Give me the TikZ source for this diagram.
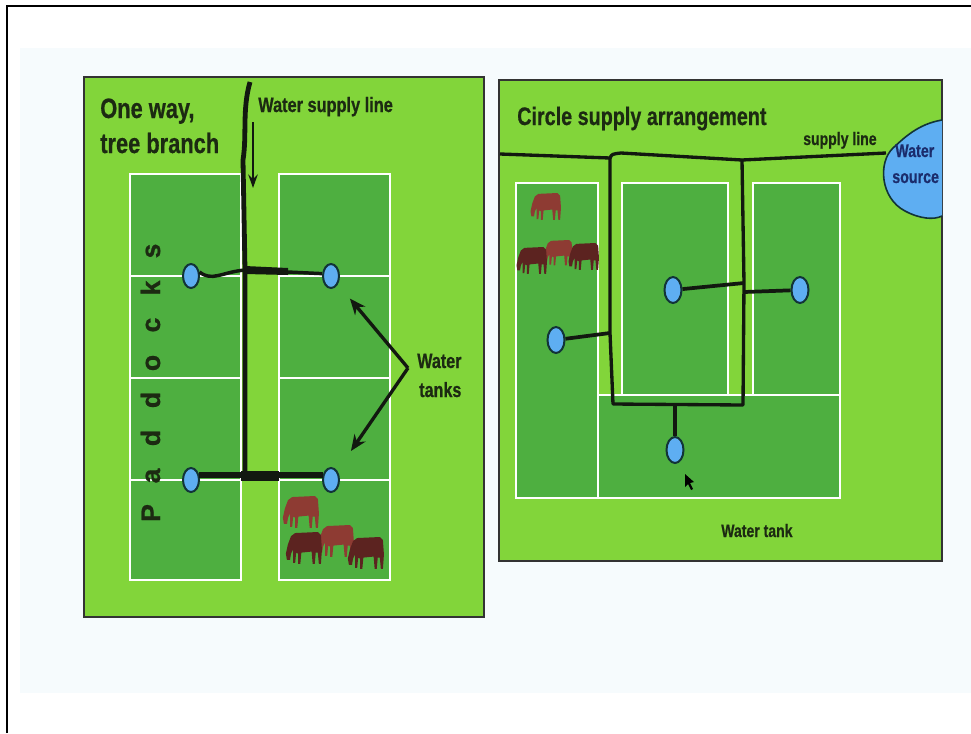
\documentclass[tikz,border=0pt]{standalone}
\usepackage{fontspec}
\newfontfamily\cond[FakeStretch=0.78,FakeBold=0.6]{Liberation Sans}
\newfontfamily\widesans[FakeBold=0.8]{Liberation Sans}
\usetikzlibrary{shapes.geometric,arrows.meta}

\definecolor{lime}{HTML}{82D53A}
\definecolor{paddock}{HTML}{4EAF40}
\definecolor{tankblue}{HTML}{5EAEF2}
\definecolor{tankedge}{HTML}{123438}
\definecolor{ink}{HTML}{1C2A12}
\definecolor{pagebg}{HTML}{F6FBFD}
\definecolor{cowlight}{HTML}{8E3B33}
\definecolor{cowdark}{HTML}{5C2320}
\definecolor{srcink}{HTML}{1B2C6C}
\definecolor{pipecol}{HTML}{121810}

\tikzset{
  panel/.style={fill=lime, draw=black!80, line width=1.5pt},
  field/.style={fill=paddock, draw=white, line width=1.3pt},
  tank/.style={ellipse, fill=tankblue, draw=tankedge, line width=1.5pt,
    minimum width=12pt, minimum height=18pt, inner sep=0pt},
  tankR/.style={tank, minimum width=12.75pt, minimum height=19.5pt},
  pipeline/.style={draw=pipecol, line width=3.6pt, line join=round},
  loopline/.style={draw=pipecol, line width=2.5pt, line join=round},
  branch/.style={draw=pipecol, line width=2.8pt},
  pointer/.style={draw=pipecol, line width=2.5pt, -{Stealth[length=12pt,width=10pt]}},
  lbl/.style={text=ink, inner sep=0pt, anchor=base west},
  pics/cow/.style={code={
    \fill[#1] (5,1) -- (27,0) -- (30,3) -- (31,17) -- (30,31) -- (28,31)
      -- (27,20) -- (25,20) -- (24,31) -- (22,31) -- (21,19) -- (11,20)
      -- (10,31) -- (8,31) -- (8,21) -- (6,20) -- (5,30) -- (3,30) -- (3,17)
      -- (1,21) -- (0,27) -- (-3,27) -- (-4,21) -- (-2,12) -- (1,4) -- cycle;
  }}
}

\newcommand\headfont[1]{\cond\bfseries\fontsize{#1}{#1}\selectfont}

\begin{document}
\begin{tikzpicture}[x=0.75pt,y=-0.75pt]
\useasboundingbox (0,0) rectangle (971,733);
\fill[white] (0,0) rectangle (971,733);
\fill[pagebg] (20,48) rectangle (971,693);
\draw[line width=1.6pt] (7,733) -- (7,6) -- (971,6);

%% ---------- One way, tree branch ----------
\path[panel] (84,77) rectangle (484,617);
\foreach \ya/\yb in {174/276,276/378,378/480,480/580} {
  \path[field] (130,\ya) rectangle (241,\yb);
  \path[field] (279,\ya) rectangle (390,\yb);
}

\node[lbl, font=\headfont{21}] (t1a) at (100,118) {One way,};
\node[lbl, font=\headfont{21}] (t1b) at (100,153) {tree branch};
\node[lbl, font=\headfont{15.7}] (supplyL) at (258,112) {Water supply line};

% vertical letters down the left paddocks
\foreach \ch/\yy [count=\i] in {P/513,a/476,d/438,d/400,o/363,c/325,k/288,s/251}
  \node[rotate=90, anchor=base, inner sep=0pt, text=ink,
        font=\widesans\bfseries\fontsize{20}{20}\selectfont] (pad\i) at (160,\yy) {\ch};

% tanks
\node[tank] (tA) at (191,276) {};
\node[tank] (tB) at (331,276) {};
\node[tank] (tC) at (191,480) {};
\node[tank] (tD) at (331,480) {};

% main line and branches
\coordinate (feed) at (250,82);
\coordinate (jU) at (245,270);
\coordinate (jL) at (245,476);
\draw[pipeline] (feed) .. controls (242,110) and (247,135) .. (243,160) -- (jU) -- (jL);
\draw[pipeline, line width=2.6pt] (tA.25) .. controls (212,282) and (222,272) .. (jU);
\draw[pipeline, line width=2.6pt] (jU) -- (tB.165);
\fill[pipecol] (245,266) -- (288,268) -- (288,275) -- (245,274) -- cycle;
\draw[pipeline, line width=4.4pt] (tC.30) -- (tD.150);
\fill[pipecol] (241,471) rectangle (279,481);

% flow arrow
\coordinate (flowtop) at (253,122);
\coordinate (flowend) at (253,188);
\draw[draw=pipecol, line width=1.8pt, -{Stealth[length=10pt,width=7pt]}] (flowtop) -- (flowend);

% water tanks label and pointers
\node[lbl, font=\headfont{15.5}] (wt1) at (417,368) {Water};
\node[lbl, font=\headfont{15.5}] (wt2) at (419,397) {tanks};
\coordinate (vx) at (408,368);
\draw[pointer, shorten >=14pt] (vx) -- (tB);
\draw[pointer, shorten >=18pt] (vx) -- (tD);

% cattle
\pic[scale=1.03] at (287,496) {cow=cowlight};
\pic[scale=1.03] at (322,525) {cow=cowlight};
\pic[scale=1.03] at (290,532) {cow=cowdark};
\pic[scale=1.03] at (352,537) {cow=cowdark};

%% ---------- Circle supply arrangement ----------
\path[panel] (499,80) rectangle (942,561);
\path[field] (516,183) rectangle (598,498);
\path[field] (598,395) rectangle (840,498);
\path[field] (622,183) rectangle (728,395);
\path[field] (753,183) rectangle (840,395);

\node[lbl, font=\headfont{19}] (t2) at (517,125) {Circle supply arrangement};
\node[lbl, font=\headfont{13.5}] (supplyR) at (803,145) {supply line};

% water source
\fill[tankblue, draw=tankedge, line width=1.2pt]
  (942,120) .. controls (918,124) and (904,138) .. (893,148)
  .. controls (878,162) and (880,198) .. (905,211)
  .. controls (920,219) and (934,220) .. (942,216);
\node[inner sep=0pt, anchor=base west, text=srcink,
      font=\headfont{13.7}] (srcA) at (895,157) {Water};
\node[inner sep=0pt, anchor=base west, text=srcink,
      font=\headfont{13.7}] (srcB) at (892,183) {source};

% tanks
\node[tankR] (tE) at (556,340) {};
\node[tankR] (tF) at (673,290) {};
\node[tankR] (tG) at (800,290) {};
\node[tankR] (tH) at (675,450) {};

% ring main
\coordinate (inR) at (500,154);
\coordinate (cTL) at (610,158);
\coordinate (cTop) at (621,153);
\coordinate (cTR) at (742,160);
\coordinate (cML) at (610,333);
\coordinate (cBL) at (613,404);
\coordinate (cBR) at (743,405);
\coordinate (cMR) at (744,283);
\coordinate (feedR) at (886,153);
\draw[loopline] (inR) -- (cTL) -- (cML) -- (cBL) -- (cBR) -- (cMR) -- (cTR) -- (feedR);
\draw[loopline] (cTL) .. controls (612,154) .. (cTop) -- (cTR);

% branches to the tanks
\coordinate (bR) at (744,292);
\coordinate (bB) at (675,405);
\draw[branch] (tE) -- (cML);
\draw[branch] (tF) -- (cMR);
\draw[branch] (bR) -- (tG);
\draw[branch] (bB) -- (tH);

% mouse pointer
\fill[black] (685,474) -- (685,487) -- (688,484) -- (691,490) -- (693,489)
  -- (690,483) -- (694,482) -- cycle;

\node[lbl, font=\headfont{13.5}] (tankR) at (721,537) {Water tank};

% cattle
\pic[scale=0.87] at (534,193) {cow=cowlight};
\pic[scale=0.82] at (547,240) {cow=cowlight};
\pic[scale=0.87] at (520,247) {cow=cowdark};
\pic[scale=0.87] at (572,243) {cow=cowdark};
\end{tikzpicture}
\end{document}
